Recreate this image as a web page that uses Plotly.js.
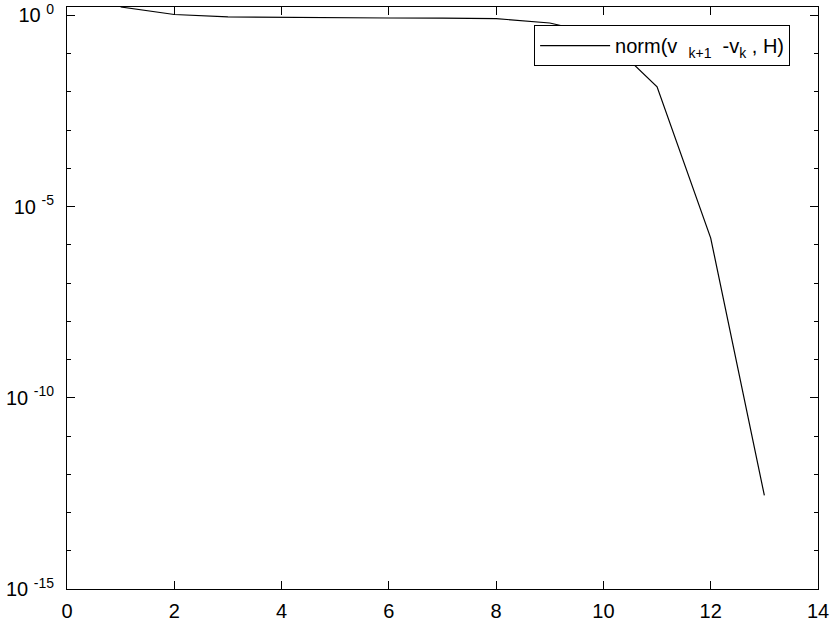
<!DOCTYPE html>
<html>
<head>
<meta charset="utf-8">
<script src="https://cdn.plot.ly/plotly-3.0.1.min.js"></script>
<style>body{margin:0;padding:0;background:#fff}#chart{width:830px;height:622px}</style>
</head>
<body>
<div id="chart"></div>
<script>
var iterations = [1, 2, 3, 4, 5, 6, 7, 8, 9, 10, 11, 12, 13];
var normDiff = [1.65, 1.05, 0.91, 0.88, 0.865, 0.85, 0.84, 0.82, 0.63, 0.30, 0.0135, 1.5e-6, 2.8e-13];
var seriesName = "norm(v\u00a0\u00a0<sub>k+1</sub>\u00a0\u00a0-v<sub>k</sub>\u00a0, H)";
var xTicks = [0, 2, 4, 6, 8, 10, 12, 14];
var yTickVals = [1e-15, 1e-10, 1e-5, 1];
var yTickText = ["10\u00a0<sup>-15</sup>", "10\u00a0<sup>-10</sup>", "10\u00a0<sup>-5</sup>", "10\u00a0<sup>0</sup>"];

var font = {family: "Liberation Sans, Arial, sans-serif", size: 20, color: "#000"};

var data = [{
  x: iterations, y: normDiff, type: "scatter", mode: "lines",
  name: seriesName, line: {color: "#000", width: 1.2}
}];

var layout = {
  width: 830, height: 622,
  margin: {l: 67, r: 12, t: 7, b: 33},
  paper_bgcolor: "#fff", plot_bgcolor: "#fff",
  font: font,
  showlegend: true,
  legend: {
    x: 0.622, y: 0.969, xanchor: "left", yanchor: "top",
    bgcolor: "#fff", bordercolor: "#000", borderwidth: 1,
    font: {family: font.family, size: 20, color: "#000"},
    itemwidth: 70
  },
  xaxis: {
    range: [0, 14], tickvals: xTicks, ticktext: xTicks.map(String),
    ticks: "inside", ticklen: 8, tickcolor: "#000", tickwidth: 1,
    showline: true, linecolor: "#000", linewidth: 1, mirror: "ticks",
    showgrid: false, zeroline: false, tickfont: font, ticklabelstandoff: 4
  },
  yaxis: {
    type: "log", range: [-15, Math.log10(normDiff[0])],
    tickvals: yTickVals, ticktext: yTickText,
    ticks: "inside", ticklen: 8, tickcolor: "#000", tickwidth: 1,
    minor: {dtick: 1, ticks: "inside", ticklen: 4, tickcolor: "#000", showgrid: false},
    showline: true, linecolor: "#000", linewidth: 1, mirror: "ticks",
    showgrid: false, zeroline: false, tickfont: font, ticklabelstandoff: 8
  }
};

Plotly.newPlot("chart", data, layout, {displayModeBar: false, staticPlot: true});
</script>
</body>
</html>
